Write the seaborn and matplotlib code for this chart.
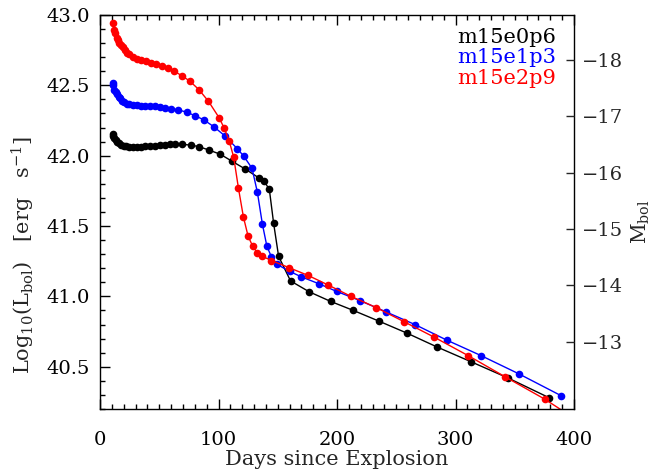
import numpy as np
import pandas as pd
import matplotlib
matplotlib.use("Agg")
import matplotlib.pyplot as plt
import seaborn as sns
from matplotlib.ticker import MultipleLocator, FixedLocator, FuncFormatter

# ---- dados ----
modelos = ["m15e0p6", "m15e1p3", "m15e2p9"]
cores = ["black", "blue", "red"]

dias_e0p6 = [10.7, 11.2, 12.1, 13.2, 14.6, 16.3, 17.9, 19.9, 22.2, 24.7, 27.5, 30.9,
             34.2, 37.9, 42.1, 46.3, 50.5, 54.7, 58.9, 63.4, 69.6, 76.4, 83.6, 92.0,
             101.6, 111.5, 122.6, 134.5, 138.4, 142.9, 146.5, 150.7, 160.8, 176.5,
             194.5, 213.9, 235.2, 258.8, 284.6, 313.3, 344.4, 379.0]
logL_e0p6 = [42.154, 42.14, 42.128, 42.11, 42.10, 42.087, 42.078, 42.07, 42.066, 42.064,
             42.062, 42.062, 42.064, 42.066, 42.068, 42.07, 42.076, 42.078, 42.08, 42.08,
             42.08, 42.076, 42.064, 42.04, 42.01, 41.96, 41.905, 41.84, 41.82, 41.76,
             41.52, 41.285, 41.11, 41.033, 40.965, 40.90, 40.825, 40.74, 40.64, 40.535,
             40.42, 40.28]

dias_e1p3 = [10.7, 11.2, 12.1, 13.2, 14.3, 15.7, 17.1, 18.8, 20.5, 22.5, 24.7, 27.5,
             30.9, 34.2, 38.2, 42.1, 46.3, 50.5, 54.7, 59.5, 65.7, 73.0, 80.0, 87.6,
             96.2, 105.5, 115.8, 121.2, 128.3, 132.8, 137.0, 140.8, 144.7, 149.6,
             160.0, 169.7, 184.7, 199.9, 219.5, 241.4, 265.8, 292.5, 321.4, 353.4, 389.0]
logL_e1p3 = [42.52, 42.50, 42.47, 42.45, 42.44, 42.42, 42.41, 42.39, 42.38, 42.37,
             42.364, 42.36, 42.357, 42.355, 42.355, 42.352, 42.35, 42.345, 42.34, 42.335,
             42.326, 42.31, 42.285, 42.255, 42.205, 42.14, 42.05, 41.998, 41.91, 41.74,
             41.515, 41.357, 41.28, 41.227, 41.178, 41.14, 41.09, 41.035, 40.97, 40.89,
             40.80, 40.69, 40.58, 40.45, 40.295]

dias_e2p9 = [11.2, 12.1, 12.9, 14.0, 15.2, 16.3, 17.7, 19.1, 20.8, 22.5, 24.7, 27.5,
             30.9, 34.2, 38.7, 42.9, 47.2, 51.9, 57.0, 62.6, 68.8, 75.8, 83.4, 91.5,
             100.5, 104.8, 108.9, 112.8, 116.8, 121.0, 124.9, 128.8, 132.8, 136.7,
             144.7, 159.3, 175.4, 192.8, 211.9, 233.3, 256.6, 282.1, 310.5, 341.6,
             375.3, 410.0]
logL_e2p9 = [42.94, 42.89, 42.87, 42.84, 42.82, 42.80, 42.785, 42.77, 42.75, 42.73,
             42.72, 42.70, 42.69, 42.68, 42.67, 42.66, 42.65, 42.64, 42.62, 42.60,
             42.57, 42.53, 42.47, 42.387, 42.27, 42.196, 42.108, 41.99, 41.77, 41.565,
             41.43, 41.357, 41.31, 41.286, 41.255, 41.205, 41.15, 41.08, 41.00, 40.92,
             40.82, 40.71, 40.58, 40.43, 40.27, 40.08]

# M_bol = 4.74 - 2.5 log10(L/Lsun), Lsun = 3.828e33 erg/s
mbol_ticks = [-18, -17, -16, -15, -14, -13]

def para_mbol(logL):
    return 4.74 - 2.5 * (logL - np.log10(3.828e33))

df = pd.concat([
    pd.DataFrame({"dia": dias_e0p6, "logL": logL_e0p6, "modelo": modelos[0]}),
    pd.DataFrame({"dia": dias_e1p3, "logL": logL_e1p3, "modelo": modelos[1]}),
    pd.DataFrame({"dia": dias_e2p9, "logL": logL_e2p9, "modelo": modelos[2]}),
], ignore_index=True)

# ---- estilo ----
sns.set_style("ticks")
plt.rcParams["font.family"] = ["DejaVu Serif"]
plt.rcParams["mathtext.fontset"] = "dejavuserif"
plt.rcParams["mathtext.default"] = "regular"
plt.rcParams["axes.linewidth"] = 1.0
plt.rcParams["axes.edgecolor"] = "black"

fig = plt.figure(figsize=(6.52, 4.70), dpi=100)
ax = fig.add_axes([0.1534, 0.1298, 0.7270, 0.8383])

sns.lineplot(data=df, x="dia", y="logL", hue="modelo", palette=dict(zip(modelos, cores)),
             marker="o", markersize=5.5, markeredgewidth=0, linewidth=1,
             estimator=None, sort=False, legend=False, ax=ax)

ax.set_xlim(0, 400)
ax.set_ylim(40.2, 43.0)
ax.xaxis.set_major_locator(MultipleLocator(100))
ax.xaxis.set_minor_locator(MultipleLocator(10))
ax.yaxis.set_major_locator(MultipleLocator(0.5))
ax.yaxis.set_minor_locator(MultipleLocator(0.1))
ax.tick_params(axis="both", which="both", direction="in", top=True, right=False,
               colors="black", labelsize=14)
ax.tick_params(which="major", length=7, width=1)
ax.tick_params(which="minor", length=3.5, width=1)
ax.yaxis.set_major_formatter(matplotlib.ticker.FormatStrFormatter("%.1f"))
ax.tick_params(axis="x", pad=16)
ax.tick_params(axis="y", pad=7)

ax.set_xlabel("Days since Explosion", fontsize=15)
ax.xaxis.set_label_coords(0.5, -0.103)
ax.set_ylabel(r"Log$_{10}$(L$_{bol}$)   [erg   s$^{-1}$]", fontsize=15)
ax.yaxis.set_label_coords(-0.133, 0.39)

# eixo da direita em magnitude bolométrica
ax2 = ax.twinx()
ax2.set_ylim(para_mbol(40.2), para_mbol(43.0))
ax2.yaxis.set_major_locator(FixedLocator(mbol_ticks))
ax2.yaxis.set_major_formatter(FuncFormatter(lambda v, p: "\u2212%d" % abs(v) if v < 0 else "%d" % v))
ax2.tick_params(axis="y", direction="in", length=6, width=1, labelsize=14, pad=6)
ax2.yaxis.set_minor_locator(matplotlib.ticker.NullLocator())
ax2.set_ylabel(r"M$_{bol}$", fontsize=14.5)
ax2.yaxis.set_label_coords(1.118, 0.475)
for s in ax2.spines.values():
    s.set_visible(False)

# legenda em texto colorido
for i, (nome, cor) in enumerate(zip(modelos, cores)):
    ax.text(0.962, 0.944 - 0.053 * i, nome, color=cor, fontsize=15,
            ha="right", va="center", transform=ax.transAxes)

fig.savefig("out.png", dpi=100)
